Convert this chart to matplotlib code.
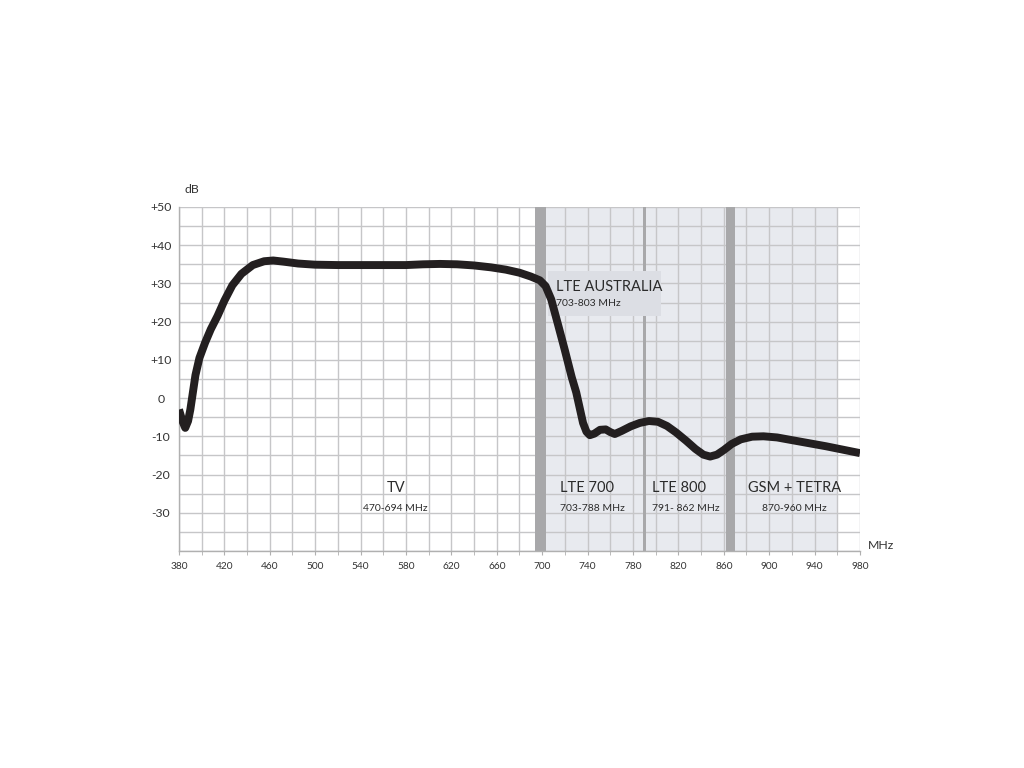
import matplotlib
matplotlib.use('Agg')
import matplotlib.pyplot as plt
from matplotlib.ticker import MultipleLocator, FixedLocator
import matplotlib.patches as mpatches

plt.rcParams['font.family'] = ['Lato', 'DejaVu Sans']

# Frequentie (MHz) en versterking (dB) van de curve.
freq = [380, 383, 385.5, 388, 390, 392, 394.5, 398, 403, 408, 414, 420, 427,
        435, 445, 455, 463, 472, 485, 500, 520, 540, 560, 580, 595, 610, 625,
        640, 655, 668, 680, 690, 698, 703, 708, 714, 720, 726, 730, 733, 736,
        739, 742, 746, 751, 756, 760, 764, 770, 778, 786, 794, 802, 810, 818,
        827, 835, 842, 848, 854, 860, 867, 875, 885, 895, 907, 920, 935, 950,
        965, 980]
gain = [-3, -6, -7.8, -6, -3, 1, 6, 10.5, 14.5, 18, 21.5, 25.5, 29.5,
        32.5, 34.8, 35.8, 36, 35.7, 35.2, 34.9, 34.8, 34.8, 34.8, 34.8, 35, 35.1, 35,
        34.7, 34.2, 33.6, 32.8, 31.8, 30.8, 29.3, 25.8, 19.2, 12.5, 5.5, 1.5, -2.5, -6.5,
        -8.8, -9.7, -9.3, -8.3, -8.2, -8.9, -9.4, -8.6, -7.4, -6.5, -6, -6.2, -7.3, -9,
        -11.2, -13.3, -14.8, -15.3, -14.8, -13.6, -12, -10.8, -10.1, -10, -10.3, -11, -11.8, -12.6,
        -13.5, -14.4]

# Frequentiebanden
banden_namen = ['TV', 'LTE 700', 'LTE 800', 'GSM + TETRA']
banden_bereik = ['470-694 MHz', '703-788 MHz', '791- 862 MHz', '870-960 MHz']
banden_x = [571, 716, 797, 922]
banden_uitlijning = ['center', 'left', 'left', 'center']

# Scheidingsbalken (begin, eind) en gearceerd gebied
balken = [(694, 703), (788.8, 791.5), (862, 870)]
gearceerd = (703, 960)

x_ticks = [380, 420, 460, 500, 540, 580, 620, 660, 700, 740, 780, 820, 860, 900, 940, 980]
y_ticks = [-30, -20, -10, 0, 10, 20, 30, 40, 50]
y_labels = ['-30', '-20', '-10', '0', '+10', '+20', '+30', '+40', '+50']

fig = plt.figure(figsize=(10.24, 7.68), dpi=100)
ax = fig.add_axes([0.1748, 0.2826, 0.665, 0.4479])

ax.set_xlim(380, 980)
ax.set_ylim(-40, 50)

ax.axvspan(gearceerd[0], gearceerd[1], color='#e8eaef', lw=0, zorder=0.2)
for begin, eind in balken:
    ax.axvspan(begin, eind, color='#a8a8aa', lw=0, zorder=1)

# Kader met LTE Australia
kader = mpatches.Rectangle((705, 21.4), 100, 11.8, facecolor='#dcdee4',
                           edgecolor='none', zorder=2)
ax.add_patch(kader)
ax.text(712, 29, 'LTE AUSTRALIA', fontsize=10.5, color='#2b2b2b',
        va='center', ha='left', zorder=2.5)
ax.text(712, 24.8, '703-803 MHz', fontsize=7.5, color='#2b2b2b',
        va='center', ha='left', zorder=2.5)

ax.plot(freq, gain, color='#231f20', lw=5.7, solid_capstyle='butt',
        solid_joinstyle='round', zorder=3)

for naam, bereik, x, ha in zip(banden_namen, banden_bereik, banden_x, banden_uitlijning):
    ax.text(x, -23.5, naam, fontsize=10.5, color='#2b2b2b', ha=ha, va='center', zorder=2.5)
    ax.text(x, -28.8, bereik, fontsize=7.5, color='#2b2b2b', ha=ha, va='center', zorder=2.5)

ax.xaxis.set_major_locator(FixedLocator(x_ticks))
ax.xaxis.set_minor_locator(MultipleLocator(20))
ax.yaxis.set_major_locator(FixedLocator(y_ticks))
ax.yaxis.set_minor_locator(MultipleLocator(5))
ax.set_yticklabels(y_labels)
for lbl in ax.get_yticklabels():
    lbl.set_ha('center')

ax.set_axisbelow(True)
ax.grid(True, which='both', color='#c6c6c8', lw=1.0)

ax.tick_params(axis='x', which='both', length=3, color='#b0b0b0',
               labelsize=7.3, labelcolor='#333333', pad=5)
ax.tick_params(axis='y', which='both', length=0, labelsize=8.8,
               labelcolor='#333333', pad=13)

for kant in ['top', 'right']:
    ax.spines[kant].set_visible(False)
for kant in ['left', 'bottom']:
    ax.spines[kant].set_color('#b0b0b0')
    ax.spines[kant].set_linewidth(1.0)

ax.text(0.008, 1.035, 'dB', transform=ax.transAxes, fontsize=8.8,
        color='#333333', ha='left', va='bottom')
ax.text(1.012, 0.0, 'MHz', transform=ax.transAxes, fontsize=8.8,
        color='#333333', ha='left', va='bottom')

fig.savefig('out.png', dpi=100, facecolor='white')
